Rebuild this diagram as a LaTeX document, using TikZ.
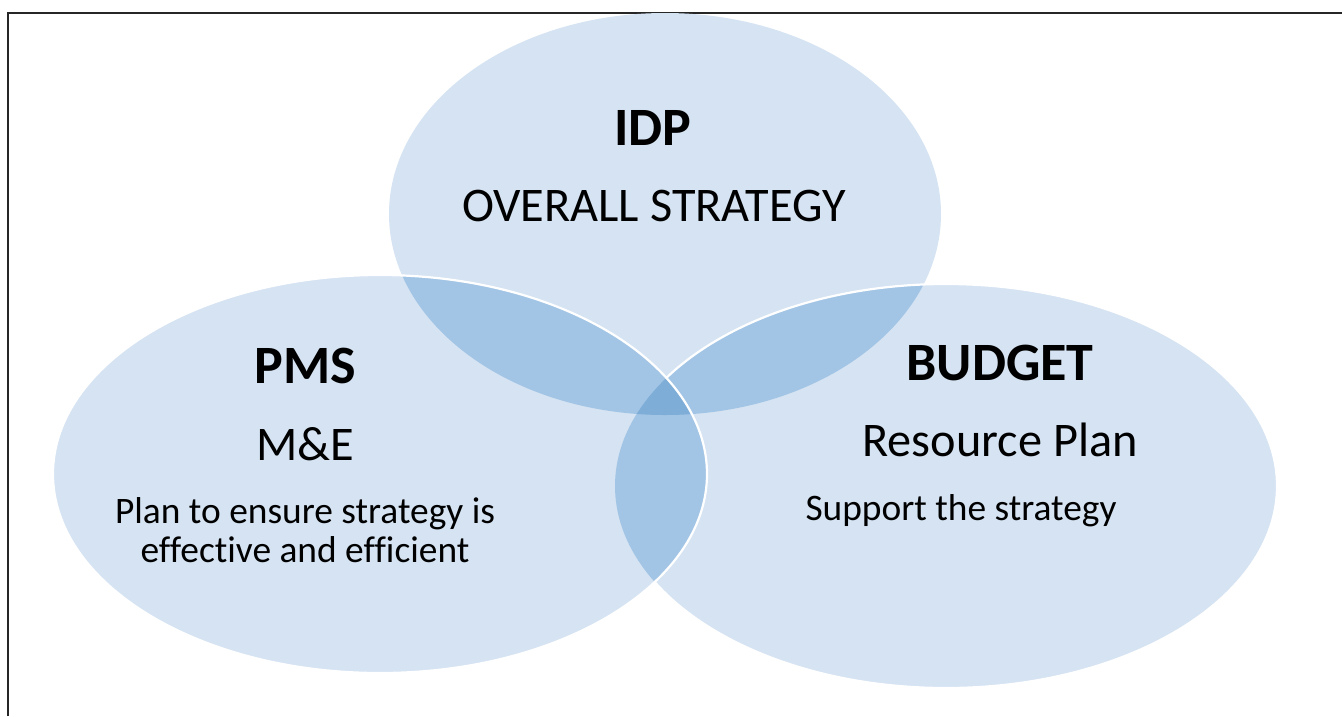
\documentclass[tikz,border=0pt]{standalone}
\usepackage{fontspec}
\setmainfont{Carlito}[Ligatures=NoCommon]
\definecolor{vlight}{RGB}{213,227,242}
\definecolor{vmid}{RGB}{163,197,229}
\definecolor{vdark}{RGB}{126,173,215}
\definecolor{markblue}{RGB}{60,130,210}
\tikzset{
  title/.style={anchor=base, inner sep=0pt, font=\fontsize{54}{60}\selectfont\bfseries},
  sub/.style={anchor=base, inner sep=0pt, font=\fontsize{48.3}{54}\selectfont},
  small/.style={anchor=base, inner sep=0pt, font=\fontsize{37.4}{42}\selectfont},
  frameline/.style={line width=2pt, draw=black!85},
  outline/.style={draw=white, line width=2.2pt}
}
\begin{document}
\begin{tikzpicture}[x=1pt,y=1pt]
\useasboundingbox (0,0) rectangle (1342,-716);
% frame
\coordinate (fb) at (8,-716);
\coordinate (fc) at (8,-12.5);
\coordinate (fr) at (1342,-12.5);
\draw[frameline] (fb) -- (fc) -- (fr);
\node[anchor=base, inner sep=0pt, text=markblue, font=\fontsize{14}{16}\selectfont] (mark) at (361,2) {,};
% ellipses geometry
\def\idp{(665,-214) ellipse [x radius=276, y radius=201]}
\def\pms{(380,-474) ellipse [x radius=327, y radius=199]}
\def\bud{(946,-486) ellipse [x radius=331, y radius=202]}
% single fills
\fill[vlight] \idp;
\fill[vlight] \pms;
\fill[vlight] \bud;
% double overlaps
\begin{scope}
  \clip \idp;
  \fill[vmid] \pms;
  \fill[vmid] \bud;
\end{scope}
\begin{scope}
  \clip \pms;
  \fill[vmid] \bud;
\end{scope}
% triple overlap
\begin{scope}
  \clip \idp;
  \clip \pms;
  \fill[vdark] \bud;
\end{scope}
% white outlines
\begin{scope}[even odd rule]
  \clip (-10,10) rectangle (1352,-726) \pms;
  \draw[outline] \bud;
\end{scope}
\draw[outline] \pms;
% texts
\node[title] (t1) at (653,-145) {IDP};
\node[sub] (s1) at (654,-221) {OVERALL STRATEGY};
\node[title] (t2) at (305,-383) {PMS};
\node[sub] (s2) at (305,-460) {M\&E};
\node[small] (p1) at (305,-523) {Plan to ensure strategy is};
\node[small] (p2) at (305,-562) {effective and efficient};
\node[title] (t3) at (1000,-380) {BUDGET};
\node[sub] (s3) at (1000,-456) {Resource Plan};
\node[small] (p3) at (961,-520) {Support the strategy};
\end{tikzpicture}
\end{document}
